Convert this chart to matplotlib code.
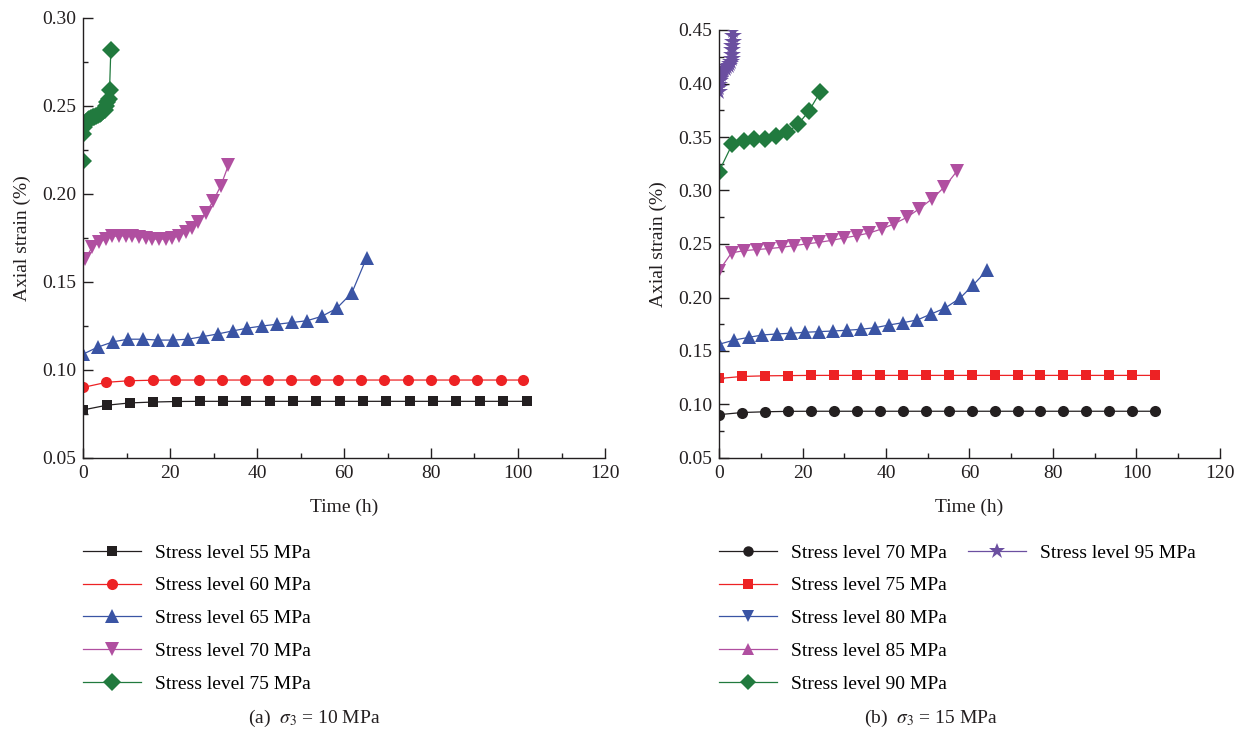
import matplotlib
matplotlib.use("Agg")
import matplotlib.pyplot as plt
from matplotlib.lines import Line2D
from matplotlib.ticker import MultipleLocator, FormatStrFormatter

plt.rcParams["font.family"] = ["Liberation Serif", "DejaVu Serif"]
plt.rcParams["mathtext.fontset"] = "stix"

# ---- (a) sigma3 = 10 MPa ----
a_t55 = [0, 5.5, 10.8, 16.2, 21.5, 26.8, 32.1, 37.5, 42.9, 48.3, 53.6, 59.0, 64.4, 69.7, 75.1, 80.5, 85.8, 91.2, 96.6, 102.0]
a_e55 = [0.0773, 0.0800, 0.0813, 0.0818, 0.0821, 0.0822, 0.0822, 0.0822, 0.0822, 0.0822,
         0.0822, 0.0822, 0.0822, 0.0822, 0.0822, 0.0822, 0.0822, 0.0822, 0.0822, 0.0822]
a_t60 = [0, 5.4, 10.6, 16.1, 21.2, 26.7, 32.0, 37.2, 42.6, 47.9, 53.3, 58.6, 64.0, 69.3, 74.6, 79.9, 85.3, 90.6, 96.0, 101.2]
a_e60 = [0.0901, 0.0930, 0.0939, 0.0942, 0.0943, 0.0943, 0.0943, 0.0943, 0.0943, 0.0943,
         0.0943, 0.0943, 0.0943, 0.0943, 0.0943, 0.0943, 0.0943, 0.0943, 0.0943, 0.0943]
a_t65 = [0, 3.4, 6.9, 10.3, 13.8, 17.2, 20.7, 24.1, 27.6, 31.0, 34.4, 37.8, 41.2, 44.6, 48.1, 51.5, 54.9, 58.3, 61.8, 65.2]
a_e65 = [0.109, 0.113, 0.116, 0.1175, 0.1175, 0.117, 0.117, 0.1175, 0.119, 0.1205,
         0.1222, 0.1238, 0.125, 0.126, 0.127, 0.128, 0.1305, 0.135, 0.1438, 0.1638]
a_t70 = [0.5, 2.1, 3.7, 5.2, 6.7, 8.3, 9.8, 11.3, 12.9, 14.4, 15.9, 17.5, 19.0, 20.5, 22.1,
         23.6, 25.1, 26.5, 28.2, 29.9, 31.7, 33.4]
a_e70 = [0.1632, 0.1697, 0.1726, 0.1745, 0.1759, 0.1762, 0.1762, 0.1759, 0.1755, 0.1751, 0.1745,
         0.1743, 0.1745, 0.1751, 0.1762, 0.1783, 0.1806, 0.1840, 0.1891, 0.1959, 0.2048, 0.2162]
a_t75 = [0, 0.1, 0.3, 0.5, 0.8, 1.1, 1.4, 1.8, 2.2, 2.6, 3.0, 3.4, 3.8, 4.2, 4.6, 5.0, 5.3, 5.6, 5.9, 6.1, 6.4]
a_e75 = [0.219, 0.234, 0.238, 0.240, 0.241, 0.242, 0.2425, 0.243, 0.2435, 0.244, 0.2445,
         0.245, 0.2455, 0.246, 0.247, 0.248, 0.250, 0.252, 0.254, 0.259, 0.282]

# ---- (b) sigma3 = 15 MPa ----
b_t70 = [0, 5.5, 11.0, 16.5, 22.0, 27.5, 33.0, 38.5, 44.0, 49.5, 55.0, 60.5, 66.0, 71.5, 77.0, 82.5, 88.0, 93.5, 99.0, 104.5]
b_e70 = [0.0905, 0.0925, 0.0932, 0.0936, 0.0937, 0.0937, 0.0937, 0.0937, 0.0937, 0.0937,
         0.0937, 0.0937, 0.0937, 0.0937, 0.0937, 0.0937, 0.0937, 0.0937, 0.0937, 0.0937]
b_t75 = [0, 5.5, 11.0, 16.5, 22.0, 27.5, 33.0, 38.5, 44.0, 49.5, 55.0, 60.5, 66.0, 71.5, 77.0, 82.5, 88.0, 93.5, 99.0, 104.5]
b_e75 = [0.1243, 0.1262, 0.1268, 0.1270, 0.1272, 0.1272, 0.1272, 0.1272, 0.1272, 0.1272,
         0.1272, 0.1272, 0.1272, 0.1272, 0.1272, 0.1272, 0.1272, 0.1272, 0.1272, 0.1272]
b_t80 = [0, 3.7, 7.2, 10.4, 13.8, 17.2, 20.6, 24.0, 27.4, 30.7, 34.0, 37.4, 40.7, 44.1, 47.5, 50.8, 54.1, 57.7, 60.9, 64.3]
b_e80 = [0.1563, 0.1603, 0.1628, 0.1650, 0.1659, 0.1666, 0.1675, 0.1681, 0.1687, 0.1694,
         0.1703, 0.1718, 0.1743, 0.1765, 0.1790, 0.1846, 0.1900, 0.1993, 0.2118, 0.2258]
b_t85 = [0, 3, 6, 9, 12, 15, 18, 21, 24, 27, 30, 33, 36, 39, 42, 45, 48, 51, 54, 57]
b_e85 = [0.2250, 0.2417, 0.2438, 0.2448, 0.2457, 0.2469, 0.2485, 0.2501, 0.2516, 0.2534,
         0.2557, 0.2578, 0.2603, 0.2641, 0.2690, 0.2749, 0.2830, 0.2921, 0.3033, 0.3181]
b_t90 = [0, 3.2, 5.9, 8.5, 11.1, 13.7, 16.3, 18.9, 21.5, 24.2]
b_e90 = [0.3177, 0.3435, 0.3466, 0.3482, 0.3482, 0.3506, 0.3544, 0.3617, 0.3740, 0.3917]
b_t95 = [0, 0.05, 0.1, 0.15, 0.2, 0.3, 0.45, 0.6, 0.8, 1.0, 1.3, 1.6, 2.0, 2.4, 2.7, 2.9,
         3.0, 3.1, 3.15, 3.2, 3.25, 3.3, 3.35]
b_e95 = [0.392, 0.396, 0.399, 0.402, 0.404, 0.406, 0.408, 0.410, 0.411, 0.412, 0.413, 0.414,
         0.415, 0.416, 0.418, 0.420, 0.423, 0.427, 0.431, 0.435, 0.439, 0.444, 0.449]

BLACK = "#231f20"
RED = "#ed2224"
BLUE = "#3a54a4"
MAGENTA = "#b04fa0"
GREEN = "#217a3e"
PURPLE = "#6b4fa0"

FS = 14


def style_axes(ax, ylim, ymajor):
    ax.set_xlim(0, 120)
    ax.set_ylim(*ylim)
    ax.spines["top"].set_visible(False)
    ax.spines["right"].set_visible(False)
    for s in ("left", "bottom"):
        ax.spines[s].set_color(BLACK)
        ax.spines[s].set_linewidth(1.0)
    ax.xaxis.set_major_locator(MultipleLocator(20))
    ax.xaxis.set_minor_locator(MultipleLocator(10))
    ax.yaxis.set_major_locator(MultipleLocator(ymajor))
    ax.yaxis.set_minor_locator(MultipleLocator(ymajor / 2))
    ax.yaxis.set_major_formatter(FormatStrFormatter("%.2f"))
    ax.tick_params(which="major", direction="in", length=7, width=1.0, color=BLACK,
                   labelsize=FS, labelcolor=BLACK, pad=5)
    ax.tick_params(which="minor", direction="in", length=3.5, width=1.0, color=BLACK)
    ax.set_xlabel("Time (h)", fontsize=FS, color=BLACK, labelpad=12)
    ax.set_ylabel("Axial strain (%)", fontsize=FS, color=BLACK, labelpad=8)


fig = plt.figure(figsize=(12.56, 7.37), dpi=100)
ax1 = fig.add_axes([83 / 1256, 1 - 458 / 737, 522 / 1256, 440 / 737])
ax2 = fig.add_axes([719 / 1256, 1 - 458 / 737, 501 / 1256, 428 / 737])

kw = dict(linewidth=0.9, markeredgewidth=0)
l1 = ax1.plot(a_t55, a_e55, color=BLACK, marker="s", markersize=7, label="Stress level 55 MPa", **kw)[0]
l2 = ax1.plot(a_t60, a_e60, color=RED, marker="o", markersize=8, label="Stress level 60 MPa", **kw)[0]
l3 = ax1.plot(a_t65, a_e65, color=BLUE, marker="^", markersize=10, label="Stress level 65 MPa", **kw)[0]
l4 = ax1.plot(a_t70, a_e70, color=MAGENTA, marker="v", markersize=10, label="Stress level 70 MPa", **kw)[0]
l5 = ax1.plot(a_t75, a_e75, color=GREEN, marker="D", markersize=9, label="Stress level 75 MPa", **kw)[0]
style_axes(ax1, (0.05, 0.30), 0.05)

ax2.plot(b_t70, b_e70, color=BLACK, marker="o", markersize=8, **kw)
ax2.plot(b_t75, b_e75, color=RED, marker="s", markersize=7, **kw)
ax2.plot(b_t80, b_e80, color=BLUE, marker="^", markersize=10, **kw)
ax2.plot(b_t85, b_e85, color=MAGENTA, marker="v", markersize=10, **kw)
ax2.plot(b_t90, b_e90, color=GREEN, marker="D", markersize=9, **kw)
ax2.plot(b_t95, b_e95, color=PURPLE, marker="*", markersize=13, **kw)
style_axes(ax2, (0.05, 0.45), 0.05)

leg_kw = dict(loc="upper left", frameon=False, fontsize=FS, handlelength=3.0,
              handletextpad=0.7, labelspacing=0.78, borderpad=0, borderaxespad=0)
fig.legend(handles=[l1, l2, l3, l4, l5], bbox_to_anchor=(83 / 1256, 1 - 544 / 737), **leg_kw)

b_labels = ["Stress level 70 MPa", "Stress level 75 MPa", "Stress level 80 MPa",
            "Stress level 85 MPa", "Stress level 90 MPa"]
b_specs = [(BLACK, "o", 7.5), (RED, "s", 7), (BLUE, "v", 9), (MAGENTA, "^", 9), (GREEN, "D", 8)]
b_handles = [Line2D([], [], color=c, marker=m, markersize=ms, linewidth=0.9, markeredgewidth=0)
             for c, m, ms in b_specs]
fig.legend(handles=b_handles, labels=b_labels, bbox_to_anchor=(719 / 1256, 1 - 544 / 737), **leg_kw)
star_handle = Line2D([], [], color=PURPLE, marker="*", markersize=12, linewidth=0.9, markeredgewidth=0)
fig.legend(handles=[star_handle], labels=["Stress level 95 MPa"],
           bbox_to_anchor=(968 / 1256, 1 - 544 / 737), **leg_kw)

fig.text(314 / 1256, 1 - 718 / 737, r"(a)  $\sigma_3$ = 10 MPa", ha="center", va="center",
         fontsize=FS, color=BLACK)
fig.text(931 / 1256, 1 - 718 / 737, r"(b)  $\sigma_3$ = 15 MPa", ha="center", va="center",
         fontsize=FS, color=BLACK)

fig.savefig("out.png", dpi=100)
